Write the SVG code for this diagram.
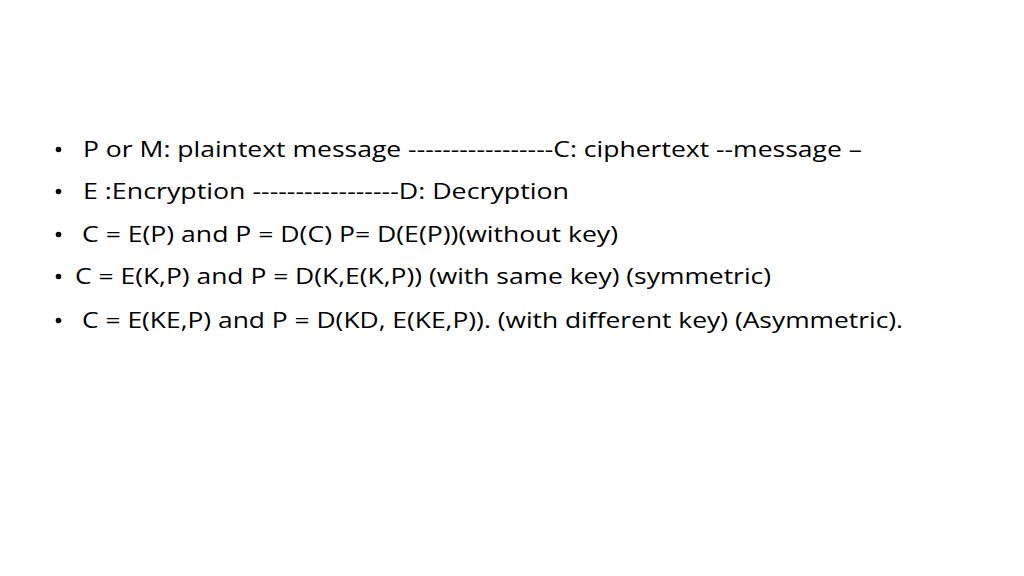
<svg xmlns="http://www.w3.org/2000/svg" width="1024" height="576" viewBox="0 0 1024 576">
<style>
.t{font-family:"Open Sans","Liberation Sans",sans-serif;font-size:22px;fill:#000}
.b{fill:#000}
</style>
<rect width="1024" height="576" fill="#fff"/>
<g id="line1">
<circle class="b" cx="58.5" cy="149.5" r="2.8"/>
<text class="t" x="83" y="157" textLength="779" lengthAdjust="spacingAndGlyphs">P or M: plaintext message -----------------C: ciphertext --message –</text>
</g>
<g id="line2">
<circle class="b" cx="58.5" cy="191.5" r="2.8"/>
<text class="t" x="83" y="199" textLength="486" lengthAdjust="spacingAndGlyphs">E :Encryption -----------------D: Decryption</text>
</g>
<g id="line3">
<circle class="b" cx="58.5" cy="234.5" r="2.8"/>
<text class="t" x="82" y="242" textLength="536" lengthAdjust="spacingAndGlyphs">C = E(P) and P = D(C) P= D(E(P))(without key)</text>
</g>
<g id="line4">
<circle class="b" cx="58.5" cy="276.5" r="2.8"/>
<text class="t" x="75" y="284" textLength="696" lengthAdjust="spacingAndGlyphs">C = E(K,P) and P = D(K,E(K,P)) (with same key) (symmetric)</text>
</g>
<g id="line5">
<circle class="b" cx="58.5" cy="320.5" r="2.8"/>
<text class="t" x="82" y="328" textLength="821" lengthAdjust="spacingAndGlyphs">C = E(KE,P) and P = D(KD, E(KE,P)). (with different key) (Asymmetric).</text>
</g>
</svg>
